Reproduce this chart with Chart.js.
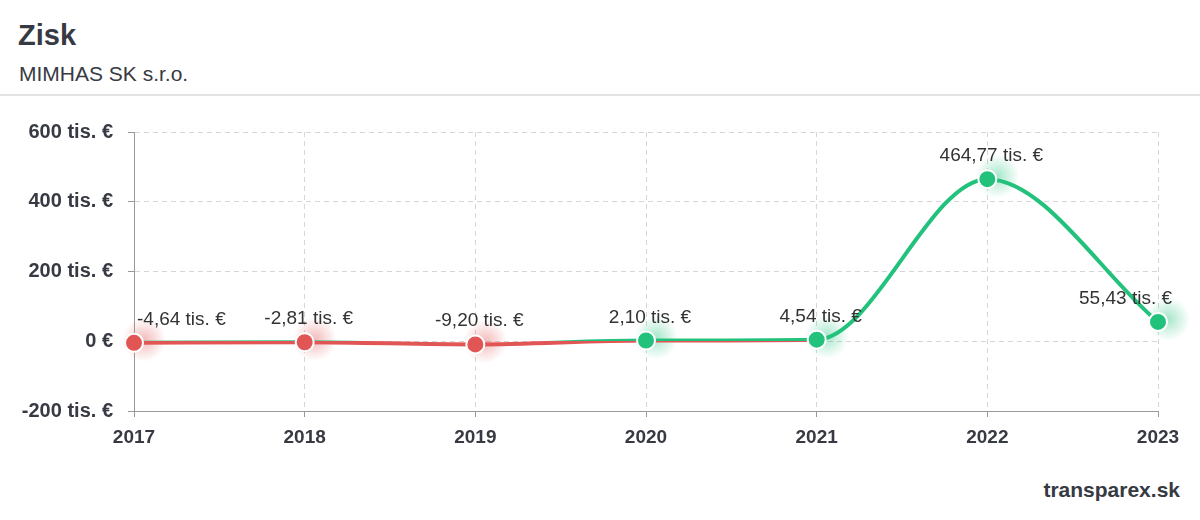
<!DOCTYPE html>
<html>
<head>
<meta charset="utf-8">
<script src="https://cdn.jsdelivr.net/npm/chart.js@4"></script>
<style>
  html, body { margin: 0; padding: 0; background: #fff; }
  body { width: 1200px; height: 520px; position: relative; overflow: hidden; font-family: 'Liberation Sans', Arial, sans-serif; color: #373a42; }
  #title { position: absolute; left: 18px; top: 21px; font-size: 29px; line-height: 29px; font-weight: bold; }
  #subtitle { position: absolute; left: 19px; top: 63px; font-size: 21px; line-height: 21px; }
  #sep { position: absolute; left: 0; top: 94px; width: 1200px; height: 2px; background: #e2e2e2; }
  #footer { position: absolute; right: 20px; top: 479px; font-size: 21px; line-height: 21px; font-weight: bold; }
  #wrap { position: absolute; left: 0; top: 100px; width: 1200px; height: 350px; }
</style>
</head>
<body>
<div id="title">Zisk</div>
<div id="subtitle">MIMHAS SK s.r.o.</div>
<div id="sep"></div>
<div id="wrap"><canvas id="c"></canvas></div>
<div id="footer">transparex.sk</div>
<script>
const years = ['2017', '2018', '2019', '2020', '2021', '2022', '2023'];
const profit = [-4.64, -2.81, -9.20, 2.10, 4.54, 464.77, 55.43];
const profitLabels = ['-4,64 tis. €', '-2,81 tis. €', '-9,20 tis. €', '2,10 tis. €', '4,54 tis. €', '464,77 tis. €', '55,43 tis. €'];
const yMin = -200, yMax = 600, yStep = 200;

const GREEN = '#22c27c';
const RED = '#e25555';
const FONT = "'Liberation Sans', Arial, sans-serif";

function lineGradient(ctx) {
  const chart = ctx.chart;
  const area = chart.chartArea;
  if (!area) return GREEN;
  const y0 = chart.scales.y.getPixelForValue(0);
  const stop = Math.min(1, Math.max(0, (y0 - area.top) / (area.bottom - area.top)));
  const g = chart.ctx.createLinearGradient(0, area.top, 0, area.bottom);
  g.addColorStop(0, GREEN);
  g.addColorStop(stop, GREEN);
  g.addColorStop(stop, RED);
  g.addColorStop(1, RED);
  return g;
}

const glowPlugin = {
  id: 'glow',
  beforeDatasetsDraw(chart) {
    const ctx = chart.ctx;
    const meta = chart.getDatasetMeta(0);
    ctx.save();
    meta.data.forEach((pt, i) => {
      const neg = profit[i] < 0;
      const x = pt.x + 10, y = pt.y - 3;
      const g = ctx.createRadialGradient(x, y, 0, x, y, 22);
      const c = neg ? '226,85,85' : '34,194,124';
      g.addColorStop(0, 'rgba(' + c + ',0.4)');
      g.addColorStop(1, 'rgba(' + c + ',0)');
      ctx.fillStyle = g;
      ctx.beginPath();
      ctx.arc(x, y, 22, 0, Math.PI * 2);
      ctx.fill();
    });
    ctx.restore();
  }
};

const labelPlugin = {
  id: 'valueLabels',
  afterDatasetsDraw(chart) {
    const ctx = chart.ctx;
    const meta = chart.getDatasetMeta(0);
    const area = chart.chartArea;
    ctx.save();
    ctx.font = '19px ' + FONT;
    ctx.fillStyle = '#333333';
    ctx.textBaseline = 'alphabetic';
    ctx.textAlign = 'left';
    meta.data.forEach((pt, i) => {
      const txt = profitLabels[i];
      const w = ctx.measureText(txt).width;
      let left = pt.x + 4 - w / 2;
      if (left < area.left + 3) left = area.left + 3;
      if (left + w > area.right + 14) left = area.right + 14 - w;
      ctx.fillText(txt, left, pt.y - 18);
    });
    ctx.restore();
  }
};

new Chart(document.getElementById('c'), {
  type: 'line',
  data: {
    labels: years,
    datasets: [{
      data: profit,
      borderColor: lineGradient,
      borderWidth: 4,
      cubicInterpolationMode: 'monotone',
      fill: false,
      pointRadius: 9,
      pointHoverRadius: 9,
      pointBorderWidth: 2,
      pointBorderColor: '#ffffff',
      pointBackgroundColor: profit.map(v => v < 0 ? RED : GREEN)
    }]
  },
  options: {
    responsive: true,
    maintainAspectRatio: false,
    animation: false,
    layout: { padding: { top: 32, right: 42, left: 0, bottom: 0 } },
    plugins: { legend: { display: false }, tooltip: { enabled: false } },
    scales: {
      x: {
        afterFit(scale) { scale.height = 39; },
        grid: { color: '#d6d6d6', tickLength: 6, tickColor: '#999', tickBorderDash: [] },
        border: { color: '#999', width: 1, dash: [5, 4] },
        ticks: { color: '#373a42', font: { family: FONT, size: 19, weight: 'bold' }, padding: 9, maxRotation: 0 }
      },
      y: {
        min: yMin, max: yMax,
        afterFit(scale) { scale.width = 134; },
        grid: { color: '#d6d6d6', tickLength: 6, tickColor: '#999', tickBorderDash: [] },
        border: { color: '#999', width: 1, dash: [5, 4] },
        ticks: {
          stepSize: yStep,
          color: '#373a42',
          font: { family: FONT, size: 20, weight: 'bold' },
          padding: 15,
          callback: v => v === 0 ? '0 €' : v + ' tis. €'
        }
      }
    }
  },
  plugins: [glowPlugin, labelPlugin]
});
</script>
</body>
</html>
